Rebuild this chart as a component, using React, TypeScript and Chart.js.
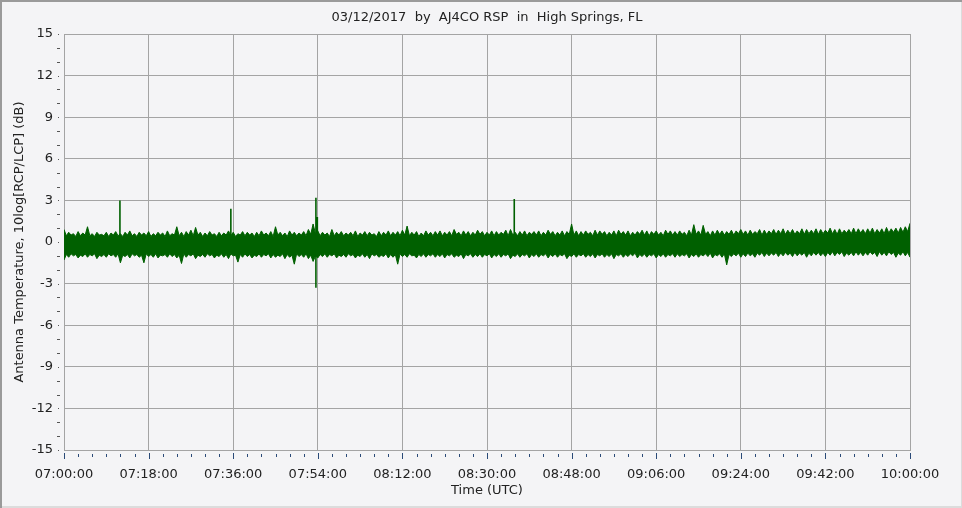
import { useEffect, useRef } from "react";
import { Chart, registerables } from "chart.js";

Chart.register(...registerables);

const TITLE = "03/12/2017  by  AJ4CO RSP  in  High Springs, FL";
const X_TITLE = "Time (UTC)";
const Y_TITLE = "Antenna Temperature, 10log[RCP/LCP] (dB)";

// x axis: minutes after 07:00:00 UTC
const START_HOUR = 7;
const X_MIN = 0;
const X_MAX = 180;
const X_MAJOR = 18;
const X_MINOR = 3;
const Y_MIN = -15;
const Y_MAX = 15;
const Y_MAJOR = 3;
const Y_MINOR = 1;

// upper hair tips of the noise band (dB), at whole minutes 0..180
const bandHigh = [
  0.9, 0.7, 0.6, 0.75, 0.65, 1.1, 0.6, 0.7, 0.55, 0.7,
  0.65, 0.75, 0.6, 0.7, 0.8, 0.6, 0.7, 0.65, 0.75, 0.6,
  0.7, 0.65, 0.8, 0.6, 1.1, 0.7, 0.75, 0.85, 1.05, 0.7,
  0.65, 0.75, 0.6, 0.7, 0.65, 0.8, 0.7, 0.6, 0.75, 0.7,
  0.65, 0.7, 0.8, 0.65, 0.75, 1.1, 0.7, 0.65, 0.8, 0.7,
  0.65, 0.75, 0.9, 1.3, 0.8, 0.7, 0.65, 0.9, 0.7, 0.75,
  0.65, 0.7, 0.8, 0.65, 0.75, 0.7, 0.6, 0.75, 0.7, 0.8,
  0.7, 0.75, 0.85, 1.15, 0.7, 0.75, 0.65, 0.8, 0.7, 0.75,
  0.8, 0.7, 0.75, 0.9, 0.7, 0.8, 0.75, 0.7, 0.85, 0.75,
  0.7, 0.8, 0.75, 0.7, 0.85, 0.9, 0.7, 0.75, 0.8, 0.7,
  0.75, 0.8, 0.7, 0.85, 0.75, 0.7, 0.8, 0.75, 1.3, 0.8,
  0.75, 0.8, 0.7, 0.85, 0.8, 0.75, 0.7, 0.8, 0.85, 0.75,
  0.8, 0.7, 0.75, 0.85, 0.8, 0.75, 0.8, 0.7, 0.85, 0.8,
  0.75, 0.8, 0.7, 0.85, 1.25, 0.8, 1.2, 0.75, 0.8, 0.85,
  0.8, 0.75, 0.85, 0.8, 0.9, 0.8, 0.85, 0.75, 0.9, 0.85,
  0.8, 0.9, 0.85, 0.95, 0.85, 0.9, 0.8, 0.95, 0.9, 0.85,
  0.95, 0.9, 0.85, 1.0, 0.9, 0.95, 0.85, 0.9, 1.0, 0.95,
  0.9, 0.95, 1.0, 0.9, 0.95, 1.05, 0.95, 1.0, 1.05, 1.1, 1.35,
];

// upper solid-core edge (dB), at half minutes 0.5..179.5
const bandHighCore = [
  0.45, 0.5, 0.4, 0.45, 0.5, 0.45, 0.4, 0.5, 0.45, 0.4,
  0.5, 0.45, 0.4, 0.5, 0.45, 0.4, 0.5, 0.45, 0.4, 0.45,
  0.5, 0.4, 0.45, 0.5, 0.45, 0.4, 0.5, 0.45, 0.5, 0.4,
  0.45, 0.5, 0.4, 0.45, 0.5, 0.45, 0.4, 0.5, 0.45, 0.5,
  0.4, 0.45, 0.5, 0.45, 0.4, 0.5, 0.45, 0.4, 0.5, 0.45,
  0.5, 0.45, 0.55, 0.6, 0.45, 0.5, 0.4, 0.45, 0.5, 0.45,
  0.5, 0.45, 0.4, 0.5, 0.45, 0.5, 0.4, 0.45, 0.5, 0.45,
  0.5, 0.45, 0.5, 0.45, 0.5, 0.4, 0.45, 0.5, 0.45, 0.5,
  0.45, 0.5, 0.45, 0.55, 0.45, 0.5, 0.45, 0.5, 0.55, 0.45,
  0.5, 0.45, 0.5, 0.55, 0.45, 0.5, 0.45, 0.5, 0.45, 0.55,
  0.5, 0.45, 0.5, 0.55, 0.45, 0.5, 0.45, 0.55, 0.5, 0.45,
  0.5, 0.55, 0.45, 0.5, 0.55, 0.45, 0.5, 0.45, 0.55, 0.5,
  0.45, 0.5, 0.55, 0.5, 0.45, 0.55, 0.5, 0.45, 0.55, 0.5,
  0.5, 0.55, 0.45, 0.5, 0.55, 0.5, 0.55, 0.45, 0.5, 0.55,
  0.5, 0.55, 0.5, 0.6, 0.55, 0.5, 0.55, 0.6, 0.5, 0.55,
  0.6, 0.55, 0.6, 0.55, 0.6, 0.55, 0.6, 0.55, 0.6, 0.6,
  0.55, 0.6, 0.65, 0.6, 0.55, 0.6, 0.65, 0.6, 0.6, 0.65,
  0.6, 0.65, 0.6, 0.65, 0.6, 0.65, 0.7, 0.65, 0.7, 0.75,
];

// lower hair tips of the noise band (dB), at whole minutes 0..180
const bandLow = [
  -1.3, -1.1, -1.0, -1.15, -1.05, -1.1, -1.0, -1.2, -1.05, -1.1,
  -1.0, -1.1, -1.5, -1.05, -1.15, -1.0, -1.1, -1.5, -1.05, -1.1,
  -1.15, -1.0, -1.1, -1.05, -1.15, -1.55, -1.1, -1.0, -1.2, -1.05,
  -1.1, -1.0, -1.15, -1.05, -1.1, -1.2, -1.0, -1.45, -1.1, -1.05,
  -1.15, -1.05, -1.1, -1.0, -1.15, -1.1, -1.05, -1.2, -1.1, -1.6,
  -1.05, -1.1, -1.2, -1.4, -1.15, -1.05, -1.1, -1.0, -1.15, -1.05,
  -1.1, -1.0, -1.15, -1.05, -1.1, -1.2, -1.0, -1.1, -1.05, -1.15,
  -1.1, -1.6, -1.05, -1.1, -1.0, -1.15, -1.05, -1.1, -1.0, -1.1,
  -1.05, -1.15, -1.0, -1.1, -1.05, -1.2, -1.0, -1.1, -1.05, -1.1,
  -1.0, -1.15, -1.05, -1.1, -1.0, -1.2, -1.05, -1.1, -1.0, -1.15,
  -1.05, -1.1, -1.0, -1.15, -1.05, -1.1, -1.0, -1.2, -1.05, -1.1,
  -1.0, -1.1, -1.05, -1.15, -1.0, -1.1, -1.05, -1.2, -1.0, -1.1,
  -1.05, -1.0, -1.15, -1.05, -1.1, -1.0, -1.15, -1.05, -1.1, -1.0,
  -1.1, -1.05, -1.0, -1.15, -1.05, -1.1, -1.0, -1.05, -1.15, -1.0,
  -1.1, -1.65, -1.05, -1.0, -1.1, -1.05, -1.0, -1.1, -0.95, -1.05,
  -1.0, -0.95, -1.05, -1.0, -0.95, -1.05, -1.0, -0.95, -1.1, -1.0,
  -0.95, -1.0, -1.05, -0.95, -1.0, -0.9, -1.05, -0.95, -1.0, -0.95,
  -1.0, -0.95, -0.9, -1.05, -0.95, -1.0, -0.9, -1.1, -0.95, -1.0, -1.1,
];

// lower solid-core edge (dB), at half minutes 0.5..179.5
const bandLowCore = [
  -0.9, -0.85, -0.9, -0.95, -0.85, -0.9, -0.85, -0.95, -0.9, -0.85,
  -0.9, -0.85, -0.95, -0.9, -0.85, -0.9, -0.95, -0.85, -0.9, -0.85,
  -0.95, -0.9, -0.85, -0.9, -0.95, -0.85, -0.9, -0.85, -0.95, -0.9,
  -0.85, -0.9, -0.95, -0.85, -0.9, -0.85, -0.95, -0.9, -0.85, -0.9,
  -0.95, -0.85, -0.9, -0.85, -0.9, -0.95, -0.85, -0.9, -0.95, -0.85,
  -0.9, -0.85, -0.95, -1.0, -0.9, -0.85, -0.9, -0.85, -0.95, -0.9,
  -0.85, -0.9, -0.95, -0.85, -0.9, -0.85, -0.9, -0.95, -0.85, -0.9,
  -0.9, -0.85, -0.9, -0.85, -0.95, -0.9, -0.85, -0.9, -0.85, -0.9,
  -0.85, -0.9, -0.85, -0.95, -0.85, -0.9, -0.85, -0.9, -0.85, -0.9,
  -0.85, -0.9, -0.85, -0.9, -0.85, -0.95, -0.85, -0.9, -0.85, -0.9,
  -0.85, -0.9, -0.85, -0.9, -0.85, -0.9, -0.85, -0.95, -0.85, -0.9,
  -0.85, -0.9, -0.85, -0.9, -0.85, -0.9, -0.85, -0.9, -0.85, -0.9,
  -0.85, -0.8, -0.9, -0.85, -0.9, -0.85, -0.9, -0.85, -0.9, -0.85,
  -0.85, -0.9, -0.85, -0.9, -0.85, -0.9, -0.85, -0.8, -0.9, -0.85,
  -0.85, -0.9, -0.85, -0.8, -0.85, -0.8, -0.85, -0.8, -0.75, -0.8,
  -0.8, -0.75, -0.8, -0.75, -0.8, -0.75, -0.8, -0.75, -0.8, -0.75,
  -0.75, -0.8, -0.75, -0.7, -0.75, -0.7, -0.8, -0.75, -0.7, -0.75,
  -0.75, -0.7, -0.75, -0.7, -0.75, -0.7, -0.75, -0.8, -0.7, -0.75,
];

// isolated spikes (minutes after 07:00, dB)
const spikeMinutes = [11.9, 35.5, 53.6, 53.9, 95.8];
const spikeTop = [3.0, 2.4, 3.2, 1.8, 3.1];
const spikeBottom = [-0.6, -0.4, -3.3, -0.5, -0.3];

const GREEN = "#006000";
const GRID = "#a4a4a4";
const TEXT = "#222222";
const BG = "#f4f4f6";
const FONT = "DejaVu Sans";

function fmtTime(m: number): string {
  const total = Math.round(m * 60);
  const h = START_HOUR + Math.floor(total / 3600);
  const mm = Math.floor((total % 3600) / 60);
  const ss = total % 60;
  const p = (n: number) => String(n).padStart(2, "0");
  return `${p(h)}:${p(mm)}:${p(ss)}`;
}

function interleave(tips: number[], core: number[]) {
  const pts: { x: number; y: number }[] = [];
  tips.forEach((v, i) => {
    pts.push({ x: i, y: v });
    if (i < core.length) pts.push({ x: i + 0.5, y: core[i] });
  });
  return pts;
}

const decor = {
  id: "decor",
  beforeDraw(chart: any) {
    const { ctx, width, height } = chart;
    ctx.save();
    ctx.fillStyle = BG;
    ctx.fillRect(0, 0, width, height);
    ctx.fillStyle = "#dcdcdc";
    ctx.fillRect(width - 1, 0, 1, height);
    ctx.fillRect(0, height - 2, width, 2);
    ctx.fillStyle = "#9a9a9a";
    ctx.fillRect(0, 0, 2, height);
    ctx.fillRect(0, 0, width, 2);
    ctx.restore();
  },
  afterDraw(chart: any) {
    const { ctx, chartArea } = chart;
    const xs = chart.scales.x;
    const ys = chart.scales.y;
    ctx.save();
    ctx.fillStyle = "#2a4a78";
    for (let m = X_MIN; m <= X_MAX; m += X_MINOR) {
      const px = Math.round(xs.getPixelForValue(m));
      const major = m % X_MAJOR === 0;
      if (major) ctx.fillRect(px, chartArea.bottom + 3, 1, 6);
      else ctx.fillRect(px, chartArea.bottom + 4, 1, 3);
    }
    ctx.fillStyle = "#555555";
    for (let v = Y_MIN; v <= Y_MAX; v += Y_MINOR) {
      const py = Math.round(ys.getPixelForValue(v));
      if (v % Y_MAJOR === 0) ctx.fillRect(chartArea.left - 6, py, 1, 1);
      else ctx.fillRect(chartArea.left - 7, py, 3, 1);
    }
    ctx.fillStyle = TEXT;
    ctx.font = `13px "${FONT}"`;
    ctx.textAlign = "center";
    ctx.textBaseline = "middle";
    const cx = (chartArea.left + chartArea.right) / 2;
    ctx.fillText(TITLE, cx, 18);
    ctx.fillText(X_TITLE, cx, 491);
    ctx.translate(20, (chartArea.top + chartArea.bottom) / 2);
    ctx.rotate(-Math.PI / 2);
    ctx.fillText(Y_TITLE, 0, 0);
    ctx.restore();
  },
};

export default function App() {
  const ref = useRef<HTMLCanvasElement | null>(null);
  useEffect(() => {
    if (!ref.current) return;
    const spikePts: any[] = [];
    spikeMinutes.forEach((t, i) => {
      spikePts.push({ x: t, y: spikeBottom[i] });
      spikePts.push({ x: t, y: spikeTop[i] });
      spikePts.push({ x: t, y: null });
    });
    const chart = new Chart(ref.current, {
      type: "line",
      data: {
        datasets: [
          {
            data: interleave(bandHigh, bandHighCore),
            borderColor: GREEN,
            backgroundColor: GREEN,
            borderWidth: 1,
            pointRadius: 0,
            tension: 0,
            fill: "+1",
          },
          {
            data: interleave(bandLow, bandLowCore),
            borderColor: GREEN,
            backgroundColor: GREEN,
            borderWidth: 1,
            pointRadius: 0,
            tension: 0,
            fill: false,
          },
          {
            data: spikePts,
            borderColor: GREEN,
            borderWidth: 1.6,
            pointRadius: 0,
            spanGaps: false,
            fill: false,
          },
        ],
      },
      options: {
        responsive: false,
        animation: false,
        events: [],
        layout: { padding: { top: 34, right: 52, left: 0, bottom: 0 } },
        plugins: { legend: { display: false }, title: { display: false }, tooltip: { enabled: false } },
        scales: {
          x: {
            type: "linear",
            min: X_MIN,
            max: X_MAX,
            afterFit: (s: any) => { s.height = 58; },
            ticks: {
              stepSize: X_MINOR,
              autoSkip: false,
              maxRotation: 0,
              minRotation: 0,
              padding: 17,
              color: TEXT,
              font: { family: FONT, size: 13 },
              callback: (v: any) => (Number(v) % X_MAJOR === 0 ? fmtTime(Number(v)) : ""),
            },
            grid: {
              drawTicks: false,
              color: (c: any) => (c.tick && c.tick.value % X_MAJOR === 0 ? GRID : "rgba(0,0,0,0)"),
            },
            border: { display: true, color: GRID },
          },
          y: {
            min: Y_MIN,
            max: Y_MAX,
            afterFit: (s: any) => { s.width = 64; },
            ticks: {
              stepSize: Y_MINOR,
              autoSkip: false,
              padding: 11,
              color: TEXT,
              font: { family: FONT, size: 13 },
              callback: (v: any) => (Number(v) % Y_MAJOR === 0 ? String(v) : ""),
            },
            grid: {
              drawTicks: false,
              color: (c: any) => (c.tick && c.tick.value % Y_MAJOR === 0 ? GRID : "rgba(0,0,0,0)"),
            },
            border: { display: true, color: GRID },
          },
        },
      },
      plugins: [decor],
    });
    return () => chart.destroy();
  }, []);
  return (
    <div style={{ position: "fixed", left: 0, top: 0, width: 962, height: 508 }}>
      <canvas ref={ref} width={962} height={508} style={{ display: "block" }} />
    </div>
  );
}
